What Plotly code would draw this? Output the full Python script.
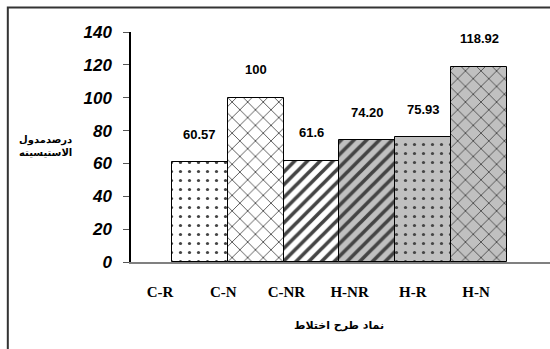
import plotly.graph_objects as go

categories = ["C-R", "C-N", "C-NR", "H-NR", "H-R", "H-N"]
values = [60.57, 100, 61.6, 74.20, 75.93, 118.92]
value_labels = ["60.57", "100", "61.6", "74.20", "75.93", "118.92"]
y_ticks = [0, 20, 40, 60, 80, 100, 120, 140]

patterns = [".", "x", "/", "/", ".", "x"]
bg_colors = ["white", "white", "white", "#c0c0c0", "#c0c0c0", "#c0c0c0"]
pattern_sizes = [9, 11, 9, 9, 9, 11]
pattern_solidity = [0.1, 0.15, 0.4, 0.4, 0.1, 0.15]

fig = go.Figure()
fig.add_trace(go.Bar(
    x=categories, y=values,
    marker=dict(
        color=bg_colors,
        line=dict(color="black", width=1),
        pattern=dict(shape=patterns, fgcolor="black", fgopacity=1,
                     size=pattern_sizes, solidity=pattern_solidity, fillmode="overlay"),
    ),
    width=1, hoverinfo="skip", showlegend=False,
))
# invisible trace for the category label axis
fig.add_trace(go.Scatter(
    x=categories, y=values, xaxis="x2", mode="markers",
    marker=dict(opacity=0), hoverinfo="skip", showlegend=False,
))

for c, v, t in zip(categories, values, value_labels):
    fig.add_annotation(x=c, y=v, text="<b>" + t + "</b>", showarrow=False, yshift=28,
                       font=dict(family="Liberation Sans, Arial", size=13, color="black"),
                       xref="x", yref="y")

fig.add_annotation(xref="paper", yref="paper", x=-0.205, y=0.505, xanchor="center", yanchor="middle",
                   text="<b>درصدمدول</b><br><b>الاستیسیته</b>", showarrow=False,
                   font=dict(family="DejaVu Sans, Noto Sans", size=10, color="black"))
fig.add_annotation(xref="paper", yref="paper", x=0.496, y=-0.274, xanchor="center", yanchor="middle",
                   text="<b>نماد طرح اختلاط</b>", showarrow=False,
                   font=dict(family="DejaVu Sans, Noto Sans", size=11, color="black"))

fig.add_shape(type="rect", xref="paper", yref="paper", x0=-0.294, x1=1.05, y0=-0.5, y1=1.107,
              line=dict(color="#333333", width=2), fillcolor="rgba(0,0,0,0)")

fig.update_layout(
    width=550, height=349,
    margin=dict(l=131, r=0, t=32, b=87),
    paper_bgcolor="white", plot_bgcolor="white",
    bargap=0,
    xaxis=dict(type="category", range=[-1.234, 6.271], showticklabels=False, ticks="",
               showline=True, linecolor="#808080", linewidth=1.5, showgrid=False, zeroline=False,
               fixedrange=True),
    xaxis2=dict(type="category", overlaying="x", side="bottom", anchor="y",
                range=[-0.459, 6.171], showline=False, showgrid=False, zeroline=False, ticks="",
                ticklabelstandoff=19,
                tickfont=dict(family="Liberation Serif, Times New Roman", size=15, color="black",
                              weight="bold")),
    yaxis=dict(range=[0, 140], tickvals=y_ticks, showline=True, linecolor="black", linewidth=1.5,
               ticks="outside", ticklen=6, tickcolor="#555555", showgrid=False, zeroline=False,
               ticklabelstandoff=8,
               tickfont=dict(family="Liberation Sans, Arial", size=17, color="black",
                             weight="bold", style="italic")),
)

fig.write_html("out.html")
